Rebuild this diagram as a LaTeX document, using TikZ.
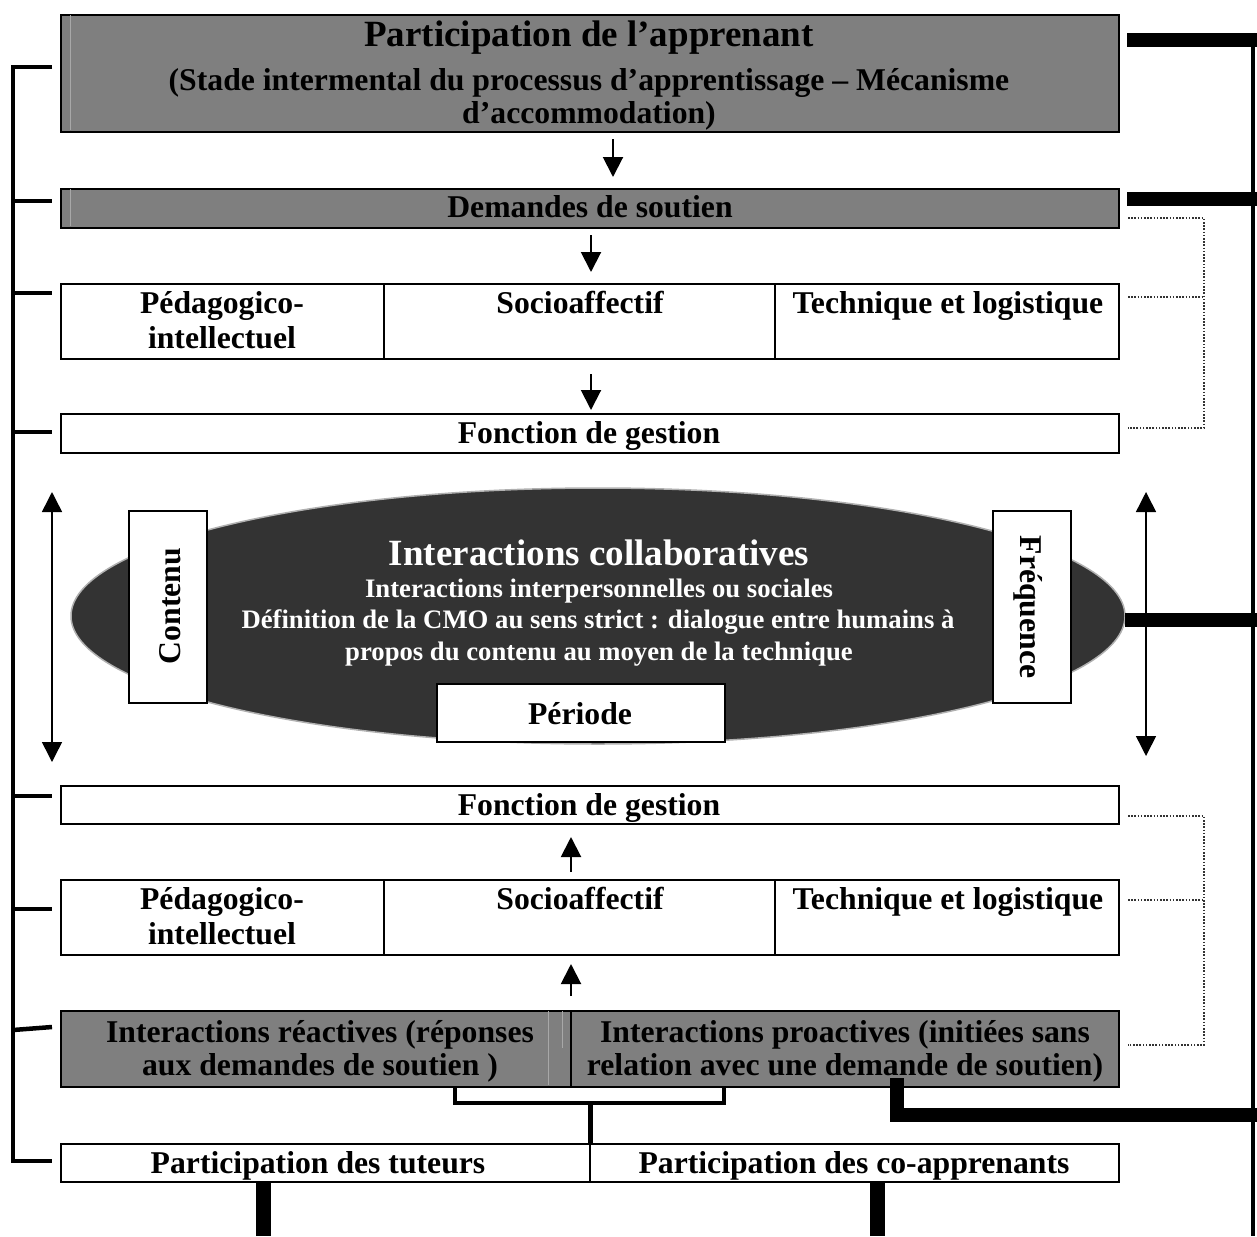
\documentclass[tikz,border=0pt]{standalone}
\usepackage{fontspec}
\setmainfont{Liberation Serif}
\usetikzlibrary{arrows.meta}
\definecolor{boxgray}{HTML}{7F7F7F}
\definecolor{ellgray}{HTML}{333333}
\definecolor{rimgray}{HTML}{B0B0B0}
\definecolor{faint}{HTML}{A8A8A8}
\begin{document}
\begin{tikzpicture}[x=1pt,y=-1pt,
  wbox/.style={draw=black,line width=2pt,fill=white,inner sep=0pt,anchor=north west},
  gbox/.style={draw=black,line width=2pt,fill=boxgray,inner sep=0pt,anchor=north west},
  tbox/.style={draw=black,line width=1.5pt,fill=white,inner sep=0pt,anchor=north west},
  bigtxt/.style={font=\bfseries\fontsize{37}{40}\selectfont,anchor=base,inner sep=0pt},
  txt/.style={font=\bfseries\fontsize{31.7}{36}\selectfont,anchor=base,inner sep=0pt},
  smtxt/.style={font=\bfseries\fontsize{26.7}{31}\selectfont,anchor=base,inner sep=0pt,text=white},
  arr/.style={line width=2pt,-{Triangle[width=20pt,length=20pt]}},
  darr/.style={line width=1.5pt,{Triangle[width=20pt,length=20pt]}-{Triangle[width=20pt,length=20pt]}},
  brk/.style={line width=4.5pt},
  thick bar/.style={line width=14pt},
  dotline/.style={line width=1.6pt,dash pattern=on 1.6pt off 1.6pt,draw=black!80}
]
\useasboundingbox (0,0) rectangle (1257,1236);
\fill[white] (0,0) rectangle (1257,1236);

% ---- boxes top part
\node[gbox,minimum width=1058pt,minimum height=117pt] (title) at (60,14) {};
\draw[faint,line width=1pt] (70,15) -- (70,130);
\node[gbox,minimum width=1058pt,minimum height=39pt] (dem) at (60,188) {};
\draw[faint,line width=1pt] (70,189) -- (70,226);
\node[wbox,minimum width=1058pt,minimum height=75pt] (row1) at (60,283) {};
\draw[line width=2pt] (384,283) -- (384,358) (775,283) -- (775,358);
\node[wbox,minimum width=1058pt,minimum height=39pt] (fg1) at (60,413) {};

% ---- ellipse
\fill[ellgray,draw=rimgray,line width=1.5pt] (598,616) ellipse [x radius=527, y radius=128];
\coordinate (elltip) at (1125,620);
\node[tbox,minimum width=78pt,minimum height=192pt] (contenu) at (128,510) {};
\node[tbox,minimum width=78pt,minimum height=192pt] (freq) at (992,510) {};
\node[tbox,minimum width=288pt,minimum height=58pt] (periode) at (436,683) {};

% ---- boxes lower part
\node[wbox,minimum width=1058pt,minimum height=38pt] (fg2) at (60,785) {};
\node[wbox,minimum width=1058pt,minimum height=75pt] (row2) at (60,879) {};
\draw[line width=2pt] (384,879) -- (384,954) (775,879) -- (775,954);
\node[gbox,minimum width=1058pt,minimum height=76pt] (react) at (60,1010) {};
\draw[faint,line width=1pt] (548,1011) -- (548,1085) (562,1011) -- (562,1048);
\draw[line width=2pt] (571,1010) -- (571,1086);
\node[wbox,minimum width=1058pt,minimum height=38pt] (part) at (60,1143) {};
\draw[line width=2pt] (590,1143) -- (590,1181);

% ---- texts
\node[bigtxt] at (589,47) {Participation de l’apprenant};
\node[txt] at (589,91) {(Stade intermental du processus d’apprentissage – Mécanisme};
\node[txt] at (589,124) {d’accommodation)};
\node[txt] at (590,217) {Demandes de soutien};
\node[txt] at (222,313) {Pédagogico-};
\node[txt] at (222,348) {intellectuel};
\node[txt] at (580,313) {Socioaffectif};
\node[txt] at (948,313) {Technique et logistique};
\node[txt] at (589,443) {Fonction de gestion};

\node[bigtxt,text=white] at (599,565) {Interactions collaboratives};
\node[smtxt] at (599,597) {Interactions interpersonnelles ou sociales};
\node[smtxt] at (598,628) {Définition de la CMO au sens strict : dialogue entre humains à};
\node[smtxt] at (599,660) {propos du contenu au moyen de la technique};
\node[txt,anchor=center,rotate=90] at (170,606) {Contenu};
\node[txt,anchor=center,rotate=-90] at (1028,607) {Fréquence};
\node[txt] at (580,724) {Période};

\node[txt] at (589,815) {Fonction de gestion};
\node[txt] at (222,909) {Pédagogico-};
\node[txt] at (222,944) {intellectuel};
\node[txt] at (580,909) {Socioaffectif};
\node[txt] at (948,909) {Technique et logistique};
\node[txt] at (320,1042) {Interactions réactives (réponses};
\node[txt] at (320,1075) {aux demandes de soutien )};
\node[txt] at (845,1042) {Interactions proactives (initiées sans};
\node[txt] at (845,1075) {relation avec une demande de soutien)};
\node[txt] at (318,1173) {Participation des tuteurs};
\node[txt] at (854,1173) {Participation des co-apprenants};

% ---- arrows
\draw[arr,shorten <=6pt,shorten >=11pt] ([xshift=23pt]title.south) -- ([xshift=23pt]title.south |- dem.north);
\draw[arr,shorten <=6pt,shorten >=11pt] ([xshift=1pt]dem.south) -- ([xshift=1pt]dem.south |- row1.north);
\draw[arr,shorten <=14pt,shorten >=3pt] ([xshift=1pt]row1.south) -- ([xshift=1pt]row1.south |- fg1.north);
\draw[arr,shorten <=7pt,shorten >=12pt] ([xshift=-19pt]row2.north) -- ([xshift=-19pt]row2.north |- fg2.south);
\draw[arr,shorten <=14pt,shorten >=8pt] ([xshift=-19pt]react.north) -- ([xshift=-19pt]react.north |- row2.south);

\coordinate (la1) at (52,492); \coordinate (la2) at (52,762);
\draw[darr] (la1) -- (la2);
\coordinate (ra1) at (1146,492); \coordinate (ra2) at (1146,756);
\draw[darr] (ra1) -- (ra2);

% ---- left bracket
\coordinate (lt) at (13,67); \coordinate (lb) at (13,1161);
\draw[brk] (52,67) -- (lt) -- (lb) -- (52,1161);
\foreach \yy in {201,293,432,796,909}
  \draw[brk] (13,\yy) -- (52,\yy);
\draw[brk] (13,1030) -- (52,1027);

% ---- right bracket
\coordinate (rt) at (1253,33); \coordinate (rb) at (1253,1236);
\draw[line width=4pt] (rt) -- (rb);
\draw[thick bar] (1127,40.5) -- (1257,40.5);
\draw[thick bar] (1127,198.5) -- (1257,198.5);
\draw[thick bar] (elltip) -- (1257,620);
\draw[thick bar] (896.5,1078) -- (896.5,1115) -- (1257,1115);

% ---- dotted brackets
\draw[dotline] (1128,218) -- (1204,218) -- (1204,428) -- (1128,428);
\draw[dotline] (1128,297) -- (1204,297);
\draw[dotline] (1128,816) -- (1204,816) -- (1204,1045) -- (1128,1045);
\draw[dotline] (1128,900) -- (1204,900);

% ---- bottom bracket and bars
\draw[line width=4pt] (455,1086) -- (455,1103) -- (724,1103) -- (724,1086);
\draw[line width=5pt] (590,1103) -- (590,1143);
\draw[line width=15pt] (263.5,1183) -- (263.5,1236);
\draw[line width=15pt] (877.5,1181) -- (877.5,1236);
\end{tikzpicture}
\end{document}
